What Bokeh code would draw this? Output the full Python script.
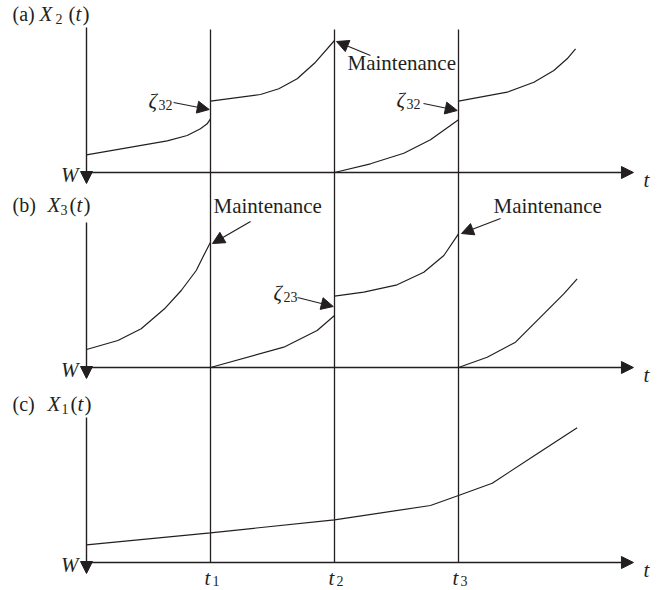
from bokeh.plotting import figure
from bokeh.models import Range1d, Arrow, NormalHead, Label
from bokeh.embed import file_html
from bokeh.resources import INLINE

# ---------------- data (time in units of the maintenance interval, level above W) -------------
ticks_t = [1, 2, 3]
tick_subs = ["1", "2", "3"]

# (a) X2(t)
a1_t = [0, 0.651, 0.812, 0.919, 0.973, 1.0]
a1_h = [17.7, 31.7, 37, 43.7, 48.7, 53.7]
a2_t = [1.0, 1.403, 1.551, 1.699, 1.847, 2.0]
a2_h = [71.3, 78, 83.7, 93.7, 110.3, 132]
a3_t = [2.0, 2.29, 2.559, 2.774, 3.0]
a3_h = [0, 8.7, 19.3, 32.7, 52.7]
a4_t = [3.0, 3.393, 3.608, 3.769, 3.876, 3.944]
a4_h = [71.3, 80.3, 90.3, 102, 113.7, 123.7]

# (b) X3(t)
b1_t = [0, 0.253, 0.441, 0.629, 0.764, 0.885, 0.938, 1.0]
b1_h = [18, 27, 38.7, 58.7, 77, 97, 110.3, 125.3]
b2_t = [1.0, 1.591, 1.86, 2.0]
b2_h = [0, 20.3, 37, 52]
b3_t = [2.0, 2.236, 2.505, 2.72, 2.882, 3.0]
b3_h = [71.3, 75.3, 82.7, 95.3, 112, 133.7]
b4_t = [3.0, 3.231, 3.46, 3.688, 3.849, 3.957]
b4_h = [0, 10.3, 25.3, 53.7, 73.7, 88.7]

# (c) X1(t)
c_t = [0, 1.0, 2.0, 2.774, 3.0, 3.272, 3.635, 3.957]
c_h = [17.7, 29.7, 42.7, 57, 67, 79.3, 108.7, 134.7]

# ---------------- layout -------------
W, H = 664, 590
PX = 124.0            # pixels per time unit
X0 = 86               # pixel position of t = 0
BASE = {"a": 418, "b": 223, "c": 28}   # panel baselines (data y = pixels from bottom)
AXIS_TOP = 145
AXIS_END = 4.411
INK = "#231f20"
FONT = "Liberation Serif"
FS = 21
SHIFT = 8             # correction of the rendered text baseline

p = figure(width=W, height=H, output_backend="svg", toolbar_location=None,
           x_range=Range1d(-X0 / PX, (W - X0) / PX),
           y_range=Range1d(0, H), x_axis_type=None, y_axis_type=None,
           min_border=0, outline_line_color=None, background_fill_color="white")
p.xgrid.visible = False
p.ygrid.visible = False


def txt(x, y, text, dx=0, dy=0, size=FS, italic=False, align="left"):
    p.add_layout(Label(x=x, y=y, x_offset=dx, y_offset=dy + SHIFT, text=text,
                       text_font=FONT, text_font_size=f"{size}px",
                       text_font_style="italic" if italic else "normal",
                       text_color=INK, text_align=align, text_baseline="alphabetic"))


def arrow(x0, y0, x1, y1, size=12, color=INK, lw=1.2):
    p.add_layout(Arrow(end=NormalHead(size=size, fill_color=color, line_color=color, line_width=1),
                       x_start=x0, y_start=y0, x_end=x1, y_end=y1,
                       line_color=color, line_width=lw))


# vertical maintenance lines through all panels
for t in ticks_t:
    p.line([t, t], [BASE["c"], BASE["a"] + 143], line_color=INK, line_width=1.3)

# axes for every panel
for key in ["a", "b", "c"]:
    b = BASE[key]
    arrow(0, b, AXIS_END, b, size=12, color=INK, lw=1.6)
    p.line([0, 0], [b, b + AXIS_TOP], line_color=INK, line_width=1.4)
    arrow(0, b, 0, b - 11, size=12, color=INK, lw=1.4)
    txt(0, b, "W", dx=-8, dy=-10, size=FS, italic=True, align="right")
    txt(AXIS_END, b, "t", dx=10, dy=-15, size=FS, italic=True)

# curves
for ts, hs, key in [(a1_t, a1_h, "a"), (a2_t, a2_h, "a"), (a3_t, a3_h, "a"), (a4_t, a4_h, "a"),
                    (b1_t, b1_h, "b"), (b2_t, b2_h, "b"), (b3_t, b3_h, "b"), (b4_t, b4_h, "b"),
                    (c_t, c_h, "c")]:
    p.line(ts, [h + BASE[key] for h in hs], line_color=INK, line_width=1.2)

# panel titles
titles = [("a", "(a)", "2", 151, -47, -31, -18),
          ("b", "(b)", "3", 155, -39, -26, -17),
          ("c", "(c)", "1", 151, -39, -25, -16)]
for key, tag, sub, dy, xx, xs, xt in titles:
    b = BASE[key]
    txt(0, b, tag, dx=-74, dy=dy, size=20)
    txt(0, b, "X", dx=xx, dy=dy, italic=True)
    txt(0, b, sub, dx=xs, dy=dy - 5, size=14)
    txt(0, b, "(", dx=xt, dy=dy)
    txt(0, b, "t", dx=xt + 7, dy=dy, italic=True)
    txt(0, b, ")", dx=xt + 14, dy=dy)

# time ticks at the bottom
for t, s in zip(ticks_t, tick_subs):
    txt(t, BASE["c"], "t", dx=-6, dy=-23, size=FS, italic=True)
    txt(t, BASE["c"], s, dx=2, dy=-26, size=14)

# annotations, panel (a)
A = BASE["a"]
txt(0.5, A + 64, "ζ", italic=True)
txt(0.5, A + 64, "32", dx=10, dy=-4, size=14)
arrow(0.702, A + 70, 0.99, A + 63)
txt(2.105, A + 102, "Maintenance")
arrow(2.29, A + 117, 2.016, A + 131)
txt(2.5, A + 65, "ζ", italic=True)
txt(2.5, A + 65, "32", dx=10, dy=-4, size=14)
arrow(2.718, A + 69, 2.99, A + 62)

# annotations, panel (b)
B = BASE["b"]
txt(1.024, B + 154, "Maintenance")
arrow(1.323, B + 146, 1.016, B + 124)
txt(1.508, B + 67, "ζ", italic=True)
txt(1.508, B + 67, "23", dx=10, dy=-4, size=14)
arrow(1.702, B + 70, 1.99, B + 61)
txt(3.282, B + 154, "Maintenance")
arrow(3.339, B + 149, 3.024, B + 134)

open("out.html", "w").write(file_html(p, INLINE))
